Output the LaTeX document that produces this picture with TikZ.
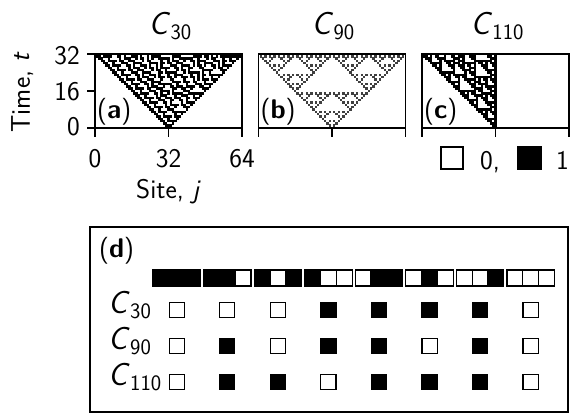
\documentclass[tikz,border=0pt]{standalone}
\usepackage{fontspec}
\newcount\CAtmp
\def\CAdefrule#1#2#3#4#5#6#7#8{%
  \expandafter\gdef\csname CAr0\endcsname{#1}%
  \expandafter\gdef\csname CAr1\endcsname{#2}%
  \expandafter\gdef\csname CAr2\endcsname{#3}%
  \expandafter\gdef\csname CAr3\endcsname{#4}%
  \expandafter\gdef\csname CAr4\endcsname{#5}%
  \expandafter\gdef\csname CAr5\endcsname{#6}%
  \expandafter\gdef\csname CAr6\endcsname{#7}%
  \expandafter\gdef\csname CAr7\endcsname{#8}}
\def\CAinit{%
  \foreach \j in {-1,...,65}{\expandafter\xdef\csname CAs\j\endcsname{0}}%
  \expandafter\xdef\csname CAs32\endcsname{1}}
\def\CAstep{%
  \foreach \j in {0,...,64}{%
    \CAtmp=\numexpr 4*\csname CAs\number\numexpr\j-1\relax\endcsname+2*\csname CAs\j\endcsname+\csname CAs\number\numexpr\j+1\relax\endcsname\relax
    \expandafter\xdef\csname CAn\j\endcsname{\csname CAr\the\CAtmp\endcsname}}%
  \foreach \j in {0,...,64}{%
    \expandafter\global\expandafter\let\csname CAs\j\expandafter\endcsname\csname CAn\j\endcsname}}
\def\CAdraw#1#2#3#4{%
  \foreach \j in {0,...,64}{%
    \ifnum\csname CAs\j\endcsname=1
      \fill[cacell] ({#1+(\j-0.5)*#3-0.05},{#2-(\t-0.5)*#4+0.05}) rectangle ({#1+(\j+0.5)*#3+0.05},{#2-(\t+0.5)*#4-0.05});
    \fi}}
\newcommand\Cname[1]{{\fontsize{32}{34}\selectfont\textit{C}}\kern0.3pt\raisebox{-5pt}{\fontsize{22}{22}\selectfont #1}}
\tikzset{
  framebox/.style={line width=1.4pt},
  tickline/.style={line width=1.4pt},
  cellbox/.style={line width=1.2pt, draw=black},
  cacell/.style={fill=black},
  lbl/.style={inner sep=0pt, font=\sffamily\fontsize{27}{30}\selectfont},
}
\begin{document}
\begin{tikzpicture}[x=1pt,y=-1pt]
\useasboundingbox (0,0) rectangle (571,414);
% ---- panel (a): rule 30
\CAdefrule{0}{1}{1}{1}{1}{0}{0}{0}
\CAinit
\begin{scope}
\clip (95,54) rectangle (242,128);
\foreach \t in {0,...,32}{\CAdraw{95}{128}{2.296875}{2.3125}\CAstep}
\end{scope}
% ---- panel (b): rule 90
\CAdefrule{0}{1}{0}{1}{1}{0}{1}{0}
\CAinit
\begin{scope}
\clip (258.5,54) rectangle (405.5,128);
\tikzset{cacell/.style={fill=black!75}}
\foreach \t in {0,...,32}{\CAdraw{258.5}{128}{2.296875}{2.3125}\CAstep}
\end{scope}
% ---- panel (c): rule 110
\CAdefrule{0}{1}{1}{1}{0}{1}{1}{0}
\CAinit
\begin{scope}
\clip (422,54) rectangle (569,128);
\foreach \t in {0,...,32}{\CAdraw{422}{128}{2.296875}{2.3125}\CAstep}
\end{scope}
% frames and ticks
\foreach \x in {95,258.5,422}{
  \draw[framebox] (\x,54) rectangle ++(147,74);
  \foreach \d in {0,73.5,147} \draw[tickline] (\x+\d,128) -- (\x+\d,137);
}
\foreach \y in {54,91,128} \draw[tickline] (87,\y) -- (95,\y);
\node[lbl, anchor=east] (y32) at (80,56) {32};
\node[lbl, anchor=east] (y16) at (80,92) {16};
\node[lbl, anchor=east] (y0) at (80,127) {0};
\node[lbl, anchor=base] (x0) at (95,168) {0};
\node[lbl, anchor=base] (x32) at (168.5,168) {32};
\node[lbl, anchor=base] (x64) at (242,168) {64};
\node[lbl, anchor=base] (xlab) at (168.5,199) {Site, \textit{j}};
\node[lbl, anchor=base, rotate=90] (ylab) at (30,92) {Time, \textit{t}};
\node[lbl, anchor=base] (ta) at (170,35) {\Cname{30}};
\node[lbl, anchor=base] (tb) at (333,35) {\Cname{90}};
\node[lbl, anchor=base] (tc) at (497,35) {\Cname{110}};
\node[lbl, anchor=base west] (la) at (97,119) {(\textbf{a})};
\node[lbl, anchor=base west] (lb) at (260.5,119) {(\textbf{b})};
\node[lbl, anchor=base west] (lc) at (424,119) {(\textbf{c})};
% legend
\draw[cellbox, fill=white] (441,147) rectangle (463,169);
\node[lbl, anchor=base west] (l0) at (480,170) {0,};
\draw[cellbox, fill=black] (518,147) rectangle (541,169);
\node[lbl, anchor=base west] (l1) at (556,170) {1};
% ---- panel (d)
\draw[framebox] (90,227) rectangle (568,412);
\node[lbl, anchor=base west] (ld) at (99,258) {(\textbf{d})};
\foreach \k/\a/\b/\c in {0/1/1/1,1/1/1/0,2/1/0/1,3/1/0/0,4/0/1/1,5/0/1/0,6/0/0/1,7/0/0/0}{
  \pgfmathsetmacro\xs{153+\k*50.57}
  \foreach \i/\v in {0/\a,1/\b,2/\c}{
    \edef\col{\ifnum\v=1 black\else white\fi}
    \draw[cellbox, fill=\col] ({\xs+\i*15.8},270) rectangle ({\xs+(\i+1)*15.8},286);
  }
}
\foreach \k/\p/\q/\r in {0/0/0/0,1/0/1/1,2/0/0/1,3/1/1/0,4/1/1/1,5/1/0/1,6/1/1/1,7/0/0/0}{
  \pgfmathsetmacro\xc{153+\k*50.57+23.7}
  \foreach \yy/\v in {310/\p,346/\q,382/\r}{
    \edef\col{\ifnum\v=1 black\else white\fi}
    \draw[cellbox, fill=\col] ({\xc-7.6},{\yy-7.6}) rectangle ({\xc+7.6},{\yy+7.6});
  }
}
\node[lbl, anchor=base west] (r30) at (108,314) {\Cname{30}};
\node[lbl, anchor=base west] (r90) at (108,350) {\Cname{90}};
\node[lbl, anchor=base west] (r110) at (108,386) {\Cname{110}};
\end{tikzpicture}
\end{document}
